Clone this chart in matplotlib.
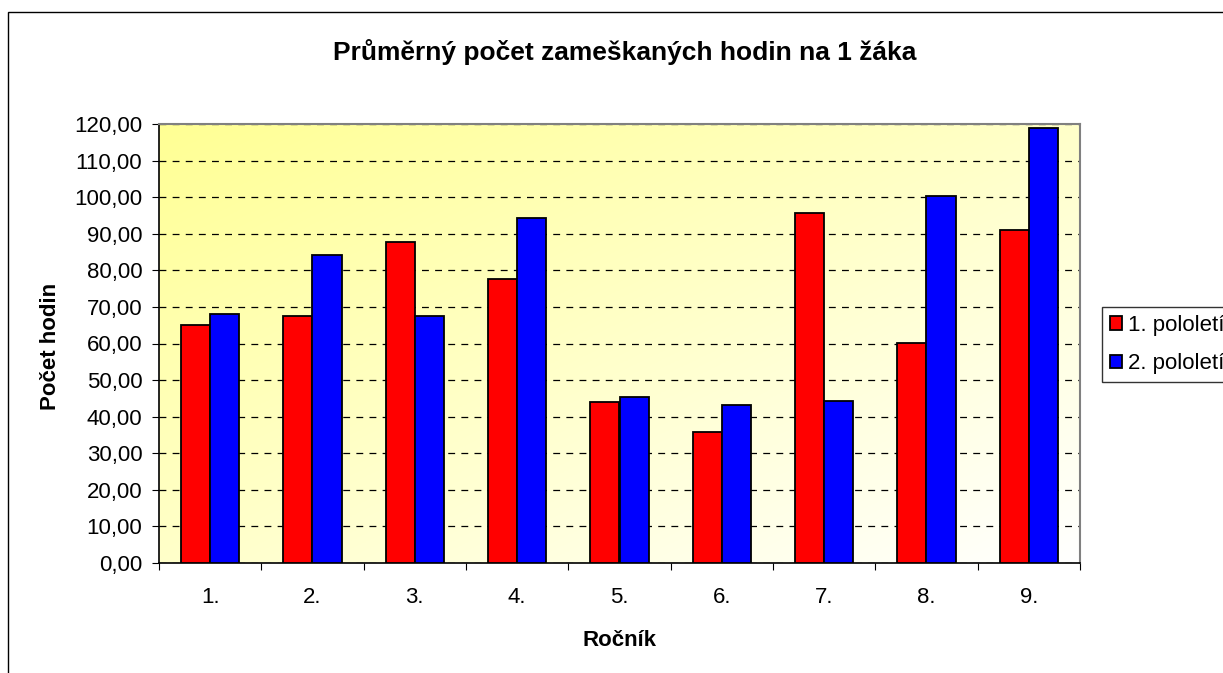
import numpy as np
import matplotlib.pyplot as plt
from matplotlib.patches import Rectangle
from matplotlib.ticker import FuncFormatter, FixedLocator

# data
rocniky = ['1.', '2.', '3.', '4.', '5.', '6.', '7.', '8.', '9.']
pol1 = [65.0, 67.5, 87.7, 77.5, 44.1, 35.9, 95.6, 60.1, 91.0]
pol2 = [68.1, 84.1, 67.5, 94.4, 45.3, 43.1, 44.2, 100.4, 118.9]
nazvy = ['1. pololetí', '2. pololetí']

plt.rcParams['font.family'] = ['Liberation Sans', 'DejaVu Sans']

W, H = 1223, 673
fig = plt.figure(figsize=(W/100, H/100), dpi=100)

# outer chart border (right/bottom cut off)
fig.patches.append(Rectangle((8/W, -0.1), 1.2, 1 - 12/H + 0.1, transform=fig.transFigure,
                             fill=False, edgecolor='black', lw=1.0))

ax = fig.add_axes([159/W, 1 - 563/H, (1080-159)/W, (563-124)/H])

# gradient background: yellow top-left -> white bottom-right
n = 200
xx, yy = np.meshgrid(np.linspace(0, 1, n), np.linspace(0, 1, n))
t = np.clip((xx + yy) / 2, 0, 1)  # row 0 = top (origin='upper')
c0 = np.array([255, 255, 148]) / 255
c1 = np.array([255, 255, 255]) / 255
img = c0[None, None, :] * (1 - t[..., None]) + c1[None, None, :] * t[..., None]
ax.imshow(img, extent=[-0.5, 8.5, 0, 120], origin='upper', aspect='auto', zorder=0)

x = np.arange(len(rocniky))
w = 1 / 3.5
ax.bar(x - w/2, pol1, w, color='#FF0000', edgecolor='black', lw=1.3, label=nazvy[0], zorder=3)
ax.bar(x + w/2, pol2, w, color='#0000FF', edgecolor='black', lw=1.3, label=nazvy[1], zorder=3)

ax.set_xlim(-0.5, 8.5)
ax.set_ylim(0, 120)
ax.set_yticks(np.arange(0, 121, 10))
ax.yaxis.set_major_formatter(FuncFormatter(lambda v, p: f'{v:.2f}'.replace('.', ',')))
ax.grid(axis='y', color='black', linestyle=(0, (5.5, 5)), lw=0.9, zorder=1)

ax.xaxis.set_major_locator(FixedLocator(np.arange(-0.5, 9, 1)))
ax.xaxis.set_minor_locator(FixedLocator(x))
ax.set_xticklabels([''] * 10)
ax.set_xticklabels(rocniky, minor=True)
ax.tick_params(axis='x', which='major', length=5, direction='out', color='black')
ax.tick_params(axis='x', which='minor', length=0, pad=17, labelsize=16)
ax.tick_params(axis='y', length=5, direction='out', labelsize=16, pad=7)

for s in ['top', 'right']:
    ax.spines[s].set_color('#808080')
    ax.spines[s].set_linewidth(1.5)
for s in ['left', 'bottom']:
    ax.spines[s].set_color('black')
    ax.spines[s].set_linewidth(1.2)

fig.text(625/W, 1 - 52/H, 'Průměrný počet zameškaných hodin na 1 žáka', ha='center', va='center',
         fontsize=19, fontweight='bold')
fig.text(619/W, 1 - 640/H, 'Ročník', ha='center', va='center', fontsize=16, fontweight='bold')
fig.text(51/W, 1 - 346/H, 'Počet hodin', ha='center', va='center', rotation=90,
         fontsize=16, fontweight='bold')

leg = fig.legend(loc='upper left', bbox_to_anchor=(1102/W, 1 - 307/H), fontsize=16,
                 frameon=True, fancybox=False, edgecolor='black', handlelength=0.55,
                 handleheight=0.55, handletextpad=0.25, borderpad=0.36, labelspacing=0.77,
                 borderaxespad=0)
leg.get_frame().set_linewidth(1.0)

fig.savefig('out.png', dpi=100)
